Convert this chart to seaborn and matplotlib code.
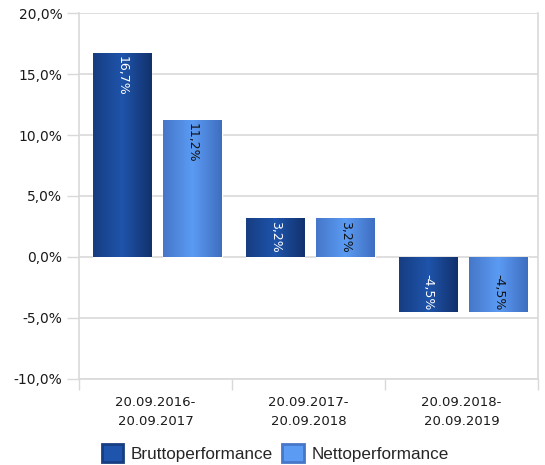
import numpy as np
import pandas as pd
import matplotlib
matplotlib.use("Agg")
import matplotlib.pyplot as plt
import seaborn as sns
from matplotlib.colors import LinearSegmentedColormap
from matplotlib.patches import Patch

periods = ["20.09.2016-\n20.09.2017", "20.09.2017-\n20.09.2018", "20.09.2018-\n20.09.2019"]
series = ["Bruttoperformance", "Nettoperformance"]
brutto = [16.7, 3.2, -4.5]
netto = [11.2, 3.2, -4.5]
y_ticks = [-10, -5, 0, 5, 10, 15, 20]

df = pd.DataFrame({
    "Zeitraum": periods * 2,
    "Serie": [series[0]] * 3 + [series[1]] * 3,
    "Wert": brutto + netto,
})

# horizontal shading of the bar bodies: edge -> highlight -> edge
shades = {
    series[0]: ["#173d82", "#1e54ab", "#12316c"],
    series[1]: ["#4677c9", "#5b9bf3", "#3e6ec0"],
}
base = {series[0]: "#1a4590", series[1]: "#4f86dc"}
text_col = {series[0]: "white", series[1]: "#111111"}

sns.set_theme(style="white")
plt.rcParams["font.family"] = ["DejaVu Sans"]

fig = plt.figure(figsize=(5.45, 4.65), dpi=100)
ax = fig.add_axes([0.145, 0.185, 0.842, 0.787])

sns.barplot(data=df, x="Zeitraum", y="Wert", hue="Serie", order=periods,
            hue_order=series, palette=base, width=0.92, gap=0.174,
            legend=False, ax=ax, saturation=1)

ax.set_ylim(-10, 20)
ax.set_xlim(-0.5, 2.5)

# gradient overlays and value labels
for container, name in zip(ax.containers, series):
    cmap = LinearSegmentedColormap.from_list(name, shades[name])
    grad = np.linspace(0, 1, 256).reshape(1, -1)
    for bar, val in zip(container, df[df["Serie"] == name]["Wert"]):
        bar.set_x(bar.get_x() + 0.012)
        x0, w = bar.get_x(), bar.get_width()
        y0, h = bar.get_y(), bar.get_height()
        im = ax.imshow(grad, cmap=cmap, aspect="auto", zorder=bar.get_zorder() + 0.1,
                       extent=[x0, x0 + w, min(y0, y0 + h), max(y0, y0 + h)],
                       interpolation="bicubic")
        im.set_clip_path(bar)
        label = f"{val:.1f}%".replace(".", ",")
        xc = x0 + w / 2
        if val >= 0:
            ax.text(xc, val - 0.25, label, rotation=270, ha="center", va="top",
                    color=text_col[name], fontsize=9, zorder=5)
        else:
            ax.text(xc, val + 0.15, label, rotation=270, ha="center", va="bottom",
                    color=text_col[name], fontsize=9, zorder=5)

ax.set_xlim(-0.5, 2.5)
ax.set_ylim(-10, 20)

grid_c = "#d9d9d9"
ax.set_yticks(y_ticks)
ax.set_yticklabels([f"{t:.1f}%".replace(".", ",") for t in y_ticks], fontsize=10, color="#1a1a1a")
for t in y_ticks:
    ax.axhline(t, color=grid_c, lw=1.2, zorder=0.5)
ax.tick_params(axis="y", length=9, width=1, color=grid_c, pad=3, left=True)

ax.set_xticks(range(3))
ax.set_xticklabels(periods, fontsize=9.5, color="#1a1a1a", linespacing=1.6)
ax.tick_params(axis="x", length=0, pad=12)
ax.set_xticks([-0.5, 0.5, 1.5, 2.5], minor=True)
ax.tick_params(axis="x", which="minor", length=8, width=1, color=grid_c, bottom=True)

for side in ["left", "right", "bottom"]:
    ax.spines[side].set_visible(True)
    ax.spines[side].set_color(grid_c)
    ax.spines[side].set_linewidth(1.2)
ax.spines["top"].set_visible(False)
ax.set_xlabel("")
ax.set_ylabel("")

handles = [Patch(facecolor=shades[s][1], edgecolor=shades[s][0], lw=2) for s in series]
fig.legend(handles, series, loc="center", bbox_to_anchor=(0.505, 0.026), ncol=2,
           frameon=False, handlelength=1.24, handleheight=1.24,
           handletextpad=0.47, columnspacing=0.55, borderpad=0,
           prop={"family": "Liberation Sans", "size": 12.3})

fig.savefig("out.png", dpi=100)
